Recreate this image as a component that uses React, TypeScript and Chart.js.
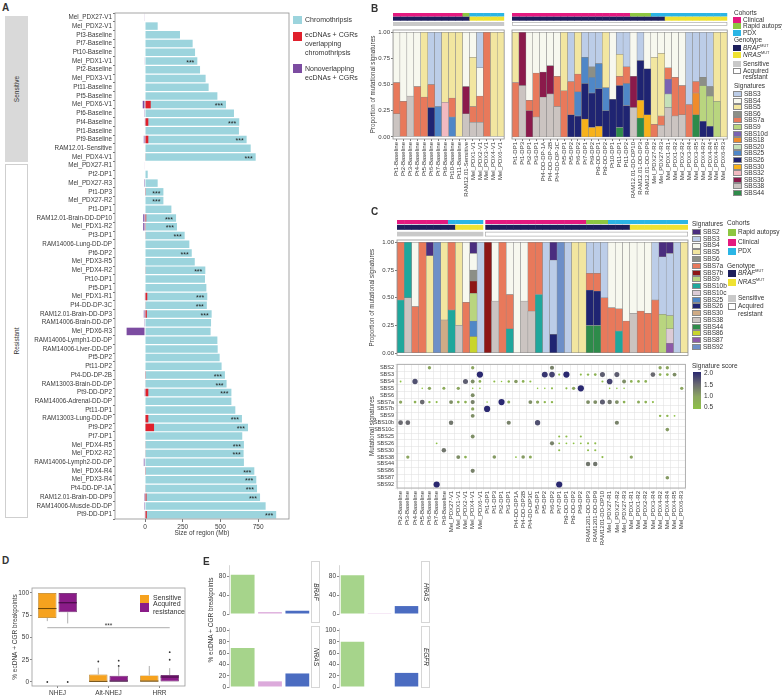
import React, { useEffect, useRef } from 'react';
import { Chart, registerables } from 'chart.js';

Chart.register(...registerables);
const FONT = '"Liberation Sans", Arial, Helvetica, sans-serif';
Chart.defaults.font.family = FONT;
Chart.defaults.font.size = 6.5;
Chart.defaults.color = '#3a3a3a';

type Pair = [number, number];

// ---------------- Panel A ----------------
const samplesA = ['Mel_PDX27-V1','Mel_PDX2-V1','Pt3-Baseline','Pt7-Baseline','Pt10-Baseline','Mel_PDX1-V1','Pt2-Baseline','Mel_PDX3-V1','Pt11-Baseline','Pt5-Baseline','Mel_PDX6-V1','Pt6-Baseline','Pt4-Baseline','Pt1-Baseline','Pt9-Baseline','RAM12.01-Sensitive','Mel_PDX4-V1',
'Mel_PDX27-R1','Pt2-DP1','Mel_PDX27-R3','Pt1-DP3','Mel_PDX27-R2','Pt1-DP1','RAM12.01-Brain-DD-DP10','Mel_PDX1-R2','Pt3-DP1','RAM14006-Lung-DD-DP','Pt6-DP2','Mel_PDX3-R5','Mel_PDX4-R2','Pt10-DP1','Pt5-DP1','Mel_PDX1-R1','Pt4-DD-DP-3C','RAM12.01-Brain-DD-DP3','RAM14006-Brain-DD-DP','Mel_PDX6-R3','RAM14006-Lymph1-DD-DP','RAM14006-Liver-DD-DP','Pt5-DP2','Pt11-DP2','Pt4-DD-DP-2B','RAM13003-Brain-DD-DP','Pt9-DD-DP2','RAM14006-Adrenal-DD-DP','Pt11-DP1','RAM13003-Lung-DD-DP','Pt9-DP2','Pt7-DP1','Mel_PDX4-R5','Mel_PDX2-R2','RAM14006-Lymph2-DD-DP','Mel_PDX4-R4','Mel_PDX3-R4','Pt4-DD-DP-1A','RAM12.01-Brain-DD-DP9','RAM14006-Muscle-DD-DP','Pt9-DD-DP1'];
const chromothripsisA = [0,84,232,316,332,347,365,402,422,480,537,590,625,623,674,701,734,
  0,18,84,122,122,175,206,212,263,294,310,330,400,398,407,413,410,442,438,435,480,482,495,508,530,541,573,573,599,643,683,645,656,654,656,725,738,743,763,800,870];
const overlapA = [0,0,0,0,0,0,0,0,0,0,38,0,22,0,22,0,4,
  0,0,0,5,0,0,8,5,4,0,0,0,4,0,0,15,4,12,0,0,0,0,0,0,5,3,22,0,0,22,60,0,4,4,0,5,0,4,10,0,12];
const nonOverlapA = [-4,0,0,0,0,-4,0,0,0,0,-15,-5,-4,0,-8,0,0,
  -3,0,-6,0,0,0,-12,-12,0,0,0,0,0,0,0,-4,0,-8,-5,-122,0,0,0,0,0,0,-5,0,0,0,0,0,0,0,-8,0,0,0,-6,-6,-4];
const significantA = [0,0,0,0,0,1,0,0,0,0,1,0,1,0,1,0,1,
  0,0,0,1,1,0,1,1,1,0,1,0,1,0,0,1,1,1,0,0,0,0,0,0,1,1,1,0,0,1,1,0,1,1,0,1,1,1,1,0,1];
const ticksA = [0, 250, 500, 750];

// ---------------- Panel B ----------------
const samplesB = ['Pt1-Baseline','Pt2-Baseline','Pt3-Baseline','Pt4-Baseline','Pt5-Baseline','Pt6-Baseline','Pt7-Baseline','Pt9-Baseline','Pt10-Baseline','Pt11-Baseline','RAM12.01-Sensitive','Mel_PDX1-V1','Mel_PDX2-V1','Mel_PDX3-V1','Mel_PDX4-V1','Mel_PDX6-V1',
'Pt1-DP1','Pt1-DP3','Pt2-DP1','Pt3-DP1','Pt4-DD-DP-1A','Pt4-DD-DP-2B','Pt4-DD-DP-3C','Pt5-DP1','Pt5-DP2','Pt6-DP2','Pt7-DP1','Pt9-DP2','Pt9-DD-DP1','Pt9-DD-DP2','Pt10-DP1','Pt11-DP1','Pt11-DP2','RAM12.01-DD-DP10','RAM12.01-DD-DP3','RAM12.01-DD-DP9','Mel_PDX27-R2','Mel_PDX27-R3','Mel_PDX1-R1','Mel_PDX1-R2','Mel_PDX2-R2','Mel_PDX3-R4','Mel_PDX3-R5','Mel_PDX4-R2','Mel_PDX4-R4','Mel_PDX4-R5','Mel_PDX6-R3'];
const sensitiveCountB = 16;
const bSBS44: Pair[] = [[31,.09],[34,.18],[42,.21]];
const bSBS38: Pair[] = [[0,.22],[2,.39],[10,.22],[11,.14],[12,.14],[17,.49],[19,.19],[20,.38],[21,.41],[22,.29],[33,.28],[37,.11],[38,.28],[39,.20],[40,.21]];
const bSBS36: Pair[] = [[10,.26],[17,.51],[18,.25],[20,.24],[21,.27],[33,.30]];
const bSBS32: Pair[] = [[7,.33]];
const bSBS30: Pair[] = [[26,.17],[27,.09],[28,.10],[34,.17],[35,.21]];
const bSBS26: Pair[] = [[5,.28],[24,.21],[25,.20],[26,.34],[27,.33],[28,.36],[29,.25],[30,.36],[31,.40],[32,.30],[34,.38],[35,.44],[43,.15],[44,.10]];
const bSBS25: Pair[] = [[6,.29],[8,.19],[25,.23],[26,.25],[27,.15],[28,.24],[29,.22],[32,.21]];
const bSBS20: Pair[] = [[38,.13]];
const bSBS18: Pair[] = [[42,.21]];
const bSBS10d: Pair[] = [[38,.14]];
const bSBS9: Pair[] = [[43,.34],[44,.29],[45,.34]];
const bSBS7a: Pair[] = [[0,.30],[1,.34],[3,.48],[4,.38],[5,.22],[8,.18],[11,.15],[12,.25],[13,1],[16,.52],[18,.10],[19,.42],[22,.29],[23,.44],[24,.32],[25,.17],[31,.09],[32,.16],[36,.12],[37,.09],[38,.11],[39,.37],[40,.28],[41,.31],[42,.11]];
const bSBS6: Pair[] = [[27,.10],[43,.08],[44,.09]];
const bSBS5: Pair[] = [[4,.62],[7,.67],[8,.63],[9,1],[11,.47],[14,1],[15,1],[16,.48],[23,.56],[25,.40],[29,.53],[31,.21],[36,.64],[37,.60],[45,.66],[46,1]];
const bSBS4: Pair[] = [[0,.48],[1,.66],[2,.61],[3,.52],[10,.52],[11,.24],[12,.27],[18,.65],[19,.39],[20,.38],[21,.32],[22,.42],[30,.64],[33,.42],[35,.35],[36,.24],[37,.20],[38,.34],[39,.43],[40,.51]];
const bSBS3: Pair[] = [[5,.50],[6,.71],[12,.34],[24,.47],[26,.24],[27,.33],[28,.30],[31,.21],[32,.33],[34,.27],[41,.69],[42,.47],[43,.43],[44,.52]];
// bottom-to-top stacking order
const seriesB: [string, Pair[]][] = [['SBS44',bSBS44],['SBS38',bSBS38],['SBS36',bSBS36],['SBS32',bSBS32],['SBS30',bSBS30],['SBS26',bSBS26],['SBS25',bSBS25],['SBS20',bSBS20],['SBS18',bSBS18],['SBS10d',bSBS10d],['SBS9',bSBS9],['SBS7a',bSBS7a],['SBS6',bSBS6],['SBS5',bSBS5],['SBS4',bSBS4],['SBS3',bSBS3]];
const colorsB: Record<string, string> = { SBS3:'#bccde8', SBS4:'#f7f8ef', SBS5:'#f2e6a0', SBS6:'#8c8f87', SBS7a:'#e8795b', SBS9:'#b9d57f', SBS10d:'#7a63b3', SBS18:'#ef8b2c', SBS20:'#c5e0b9', SBS25:'#4f87c7', SBS26:'#1f2472', SBS30:'#f7b21b', SBS32:'#f2b9c0', SBS36:'#8b1a4b', SBS38:'#cbc4c1', SBS44:'#2e8b4a' };

// ---------------- Panel C ----------------
const samplesC = ['Pt2-Baseline','Pt3-Baseline','Pt4-Baseline','Pt5-Baseline','Pt6-Baseline','Pt7-Baseline','Pt9-Baseline','Mel_PDX27-V1','Mel_PDX1-V1','Mel_PDX2-V1','Mel_PDX4-V1','Mel_PDX6-V1',
'Pt1-DP1','Pt1-DP3','Pt2-DP1','Pt3-DP1','Pt4-DD-DP1A','Pt4-DD-DP2B','Pt4-DD-DP3C','Pt5-DP1','Pt5-DP2','Pt6-DP2','Pt7-DP1','Pt9-DD-DP1','Pt9-DD-DP2','Pt9-DP2','RAM1201-DD-DP3','RAM1201-DD-DP9','RAM1201-DD-DP10','Mel_PDX27-R1','Mel_PDX27-R2','Mel_PDX27-R3','Mel_PDX1-R1','Mel_PDX1-R2','Mel_PDX2-R2','Mel_PDX3-R4','Mel_PDX4-R2','Mel_PDX4-R4','Mel_PDX4-R5','Mel_PDX6-R3'];
const sensitiveCountC = 12;
const cSBS92: Pair[] = [[5,1],[22,1]];
const cSBS87: Pair[] = [[37,.09]];
const cSBS86: Pair[] = [[10,.15]];
const cSBS44: Pair[] = [[26,.25],[27,.25]];
const cSBS38: Pair[] = [[1,.50],[8,.25],[13,.47],[17,.47],[18,.38],[32,.36]];
const cSBS30: Pair[] = [[6,.30]];
const cSBS26: Pair[] = [[21,.17],[26,.32],[27,.31]];
const cSBS25: Pair[] = [[10,.14]];
const cSBS10c: Pair[] = [[37,.13]];
const cSBS10b: Pair[] = [[0,.48],[1,.50],[7,.39],[15,.22],[19,.53],[30,.20]];
const cSBS9: Pair[] = [[10,.25],[36,.35],[37,.12]];
const cSBS7b: Pair[] = [[10,.11],[12,1]];
const cSBS7a: Pair[] = [[0,.52],[2,.42],[3,1],[7,.61],[9,.46],[14,1],[15,.31],[18,.62],[19,.47],[26,.15],[27,.16],[28,.50],[29,.41],[30,.20],[31,.29],[33,.38],[34,.36],[35,.48]];
const cSBS6: Pair[] = [[10,.10]];
const cSBS5: Pair[] = [[4,.88],[6,.70],[8,.75],[24,1],[25,1],[39,1]];
const cSBS4: Pair[] = [[2,.58],[9,.54],[10,.15],[13,.53],[15,.47],[16,1],[17,.53],[29,.59],[30,.60],[31,.71],[32,.64],[33,.62],[34,.64]];
const cSBS3: Pair[] = [[11,1],[20,1],[21,.67],[23,1],[26,.28],[27,.28],[28,.50],[35,.52],[36,.52],[37,.56],[38,1]];
const cSBS2: Pair[] = [[4,.12],[10,.10],[21,.16],[36,.13],[37,.10]];
const seriesC: [string, Pair[]][] = [['SBS92',cSBS92],['SBS87',cSBS87],['SBS86',cSBS86],['SBS44',cSBS44],['SBS38',cSBS38],['SBS30',cSBS30],['SBS26',cSBS26],['SBS25',cSBS25],['SBS10c',cSBS10c],['SBS10b',cSBS10b],['SBS9',cSBS9],['SBS7b',cSBS7b],['SBS7a',cSBS7a],['SBS6',cSBS6],['SBS5',cSBS5],['SBS4',cSBS4],['SBS3',cSBS3],['SBS2',cSBS2]];
const colorsC: Record<string, string> = { SBS2:'#4a2d7f', SBS3:'#bccde8', SBS4:'#f7f8ef', SBS5:'#f2e6a0', SBS6:'#8c8f87', SBS7a:'#e8795b', SBS7b:'#8e1616', SBS9:'#b9d57f', SBS10b:'#1fa79c', SBS10c:'#dccbd6', SBS25:'#4f87c7', SBS26:'#1f2472', SBS30:'#cfab86', SBS38:'#cbc4c1', SBS44:'#2e8b4a', SBS86:'#c9d52c', SBS87:'#8e5aa8', SBS92:'#6d8fc8' };
// signature scores (bubble matrix): [sample index, score]
const sSBS2: Pair[] = [[4,1.0],[10,1.0],[21,1.3],[36,1.0],[37,1.0]];
const sSBS3: Pair[] = [[11,2.0],[20,1.9],[21,1.8],[22,0.6],[23,2.0],[25,0.6],[26,0.7],[27,0.8],[28,1.6],[30,1.6],[35,1.5],[36,0.8],[37,0.8],[38,1.2]];
const sSBS4: Pair[] = [[0,0.5],[2,1.7],[9,1.6],[10,1.2],[11,0.8],[13,0.6],[14,0.4],[15,0.7],[16,1.1],[17,0.8],[18,0.6],[28,0.6],[29,1.8],[31,1.2],[32,0.8],[33,0.8],[34,0.8]];
const sSBS5: Pair[] = [[3,0.4],[4,1.0],[6,0.9],[8,1.0],[10,0.4],[11,0.4],[19,0.4],[20,0.4],[21,0.6],[23,0.6],[24,1.0],[25,2.0],[29,0.4],[30,0.4],[31,0.4],[39,1.0]];
const sSBS6: Pair[] = [[10,1.2]];
const sSBS7a: Pair[] = [[0,1.0],[2,0.8],[3,1.5],[4,0.7],[5,0.6],[7,1.2],[8,0.8],[9,0.8],[10,1.3],[12,0.4],[14,2.0],[15,0.9],[18,1.2],[19,1.0],[20,0.7],[21,0.7],[26,1.2],[27,1.2],[28,1.6],[29,1.4],[30,1.2],[31,0.8],[33,0.9],[34,0.8],[35,0.6]];
const sSBS7b: Pair[] = [[10,1.0],[12,2.0]];
const sSBS9: Pair[] = [[10,1.2],[36,0.7],[37,0.7],[38,0.5]];
const sSBS10b: Pair[] = [[0,1.5],[1,1.5],[7,1.4],[15,1.3],[19,1.7],[30,1.3]];
const sSBS10c: Pair[] = [[37,1.1]];
const sSBS25: Pair[] = [[10,1.2],[22,0.6],[23,0.6],[25,0.6]];
const sSBS26: Pair[] = [[5,0.5],[21,1.3],[22,0.5],[23,0.5],[24,0.5],[25,0.5],[26,0.6],[27,0.6]];
const sSBS30: Pair[] = [[6,1.4],[22,0.6],[26,0.6],[27,0.6]];
const sSBS38: Pair[] = [[1,1.0],[8,1.2],[9,0.8],[13,1.1],[16,0.5],[17,1.1],[18,0.9],[28,0.6],[32,1.0]];
const sSBS44: Pair[] = [[26,1.4],[27,1.4]];
const sSBS86: Pair[] = [[10,1.3]];
const sSBS87: Pair[] = [[37,1.1]];
const sSBS92: Pair[] = [[5,2.0],[22,2.0]];
const scoresC: [string, Pair[]][] = [['SBS2',sSBS2],['SBS3',sSBS3],['SBS4',sSBS4],['SBS5',sSBS5],['SBS6',sSBS6],['SBS7a',sSBS7a],['SBS7b',sSBS7b],['SBS9',sSBS9],['SBS10b',sSBS10b],['SBS10c',sSBS10c],['SBS25',sSBS25],['SBS26',sSBS26],['SBS30',sSBS30],['SBS38',sSBS38],['SBS44',sSBS44],['SBS86',sSBS86],['SBS87',sSBS87],['SBS92',sSBS92]];

// ---------------- Panel D ----------------
const pathwaysD = ['NHEJ', 'Alt-NHEJ', 'HRR'];
const sensQ1 = [72, 0, 0], sensMedian = [82.5, 0.7, 1], sensQ3 = [100, 8.5, 7.4];
const sensWhiskLo = [68.4, 0, 0], sensWhiskHi = [100, 16, 18];
const sensOutliers = [[0], [23], []];
const acqQ1 = [78.4, 0, 0], acqMedian = [89, 1, 5.6], acqQ3 = [100, 7, 7.8];
const acqWhiskLo = [65.8, 0, 0], acqWhiskHi = [100, 17, 15.6];
const acqOutliers = [[0], [18, 24], [25, 33.5]];
const significanceLevelD = 61;

// ---------------- Panel E ----------------
const pathwaysE = ['NHEJ', 'Alt-NHEJ', 'HRR'];
const brafE = [84, 4, 7];
const nrasE = [69, 10, 24];
const hrasE = [83, 0.5, 17];
const egfrE = [80, 0, 25];

// ---------------- helpers ----------------
const cohortOf = (s: string) => s.startsWith('Mel_PDX') ? 'PDX' : s.startsWith('RAM') ? 'Rapid autopsy' : 'Clinical';
const genotypeOf = (s: string) => (s.startsWith('Mel_PDX') && !s.startsWith('Mel_PDX27')) ? 'NRAS' : 'BRAF';
const cohortColor: Record<string, string> = { 'Clinical': '#e4197f', 'Rapid autopsy': '#8dc641', 'PDX': '#2bb5e5' };
const genoColor: Record<string, string> = { BRAF: '#1d1f5c', NRAS: '#efe232' };
const statusColor: Record<string, string> = { S: '#c9c9c9', R: '#ffffff' };

function expand(list: Pair[], from: number, n: number) {
  const out: (number | null)[] = new Array(n).fill(null);
  for (const [i, v] of list) if (i >= from && i < from + n) out[i - from] = v;
  return out;
}

function scoreColor(s: number) {
  const stops: [number, number[]][] = [[0.4, [141, 198, 63]], [1.0, [140, 166, 96]], [1.5, [106, 106, 112]], [2.0, [42, 40, 112]]];
  if (s <= stops[0][0]) return `rgb(${stops[0][1].join(',')})`;
  for (let k = 1; k < stops.length; k++) {
    if (s <= stops[k][0]) {
      const [a0, c0] = stops[k - 1], [a1, c1] = stops[k];
      const t = (s - a0) / (a1 - a0);
      return `rgb(${c0.map((c, j) => Math.round(c + (c1[j] - c) * t)).join(',')})`;
    }
  }
  return `rgb(${stops[3][1].join(',')})`;
}

const framePlugin = {
  id: 'frame',
  afterDraw(chart: any, _a: any, o: any) {
    if (!o || !o.color) return;
    const { ctx, chartArea: a } = chart;
    ctx.save();
    ctx.strokeStyle = o.color; ctx.lineWidth = o.width ?? 0.8;
    ctx.strokeRect(a.left, a.top, a.right - a.left, a.bottom - a.top);
    ctx.restore();
  },
};

const starsPlugin = {
  id: 'stars',
  afterDatasetsDraw(chart: any, _a: any, o: any) {
    if (!o || !o.flags) return;
    const { ctx } = chart; const xs = chart.scales.x; const ys = chart.scales.y;
    ctx.save();
    ctx.fillStyle = '#222'; ctx.font = `7px ${FONT}`; ctx.textAlign = 'right'; ctx.textBaseline = 'middle';
    o.flags.forEach((f: number, i: number) => {
      if (!f) return;
      ctx.fillText('***', xs.getPixelForValue(o.values[i]) - 3, ys.getPixelForValue(i) + 1.8);
    });
    ctx.restore();
  },
};

const annotPlugin = {
  id: 'annot',
  afterDraw(chart: any, _a: any, o: any) {
    if (!o || !o.samples) return;
    const { ctx } = chart; const a = chart.chartArea; const xs = chart.scales.x;
    const n: number = o.samples.length;
    const step = (a.right - a.left) / n;
    const gap: number = o.gapAt ?? -1;
    const edge = (i: number) => {
      const c = xs.getPixelForValue(i);
      let l = c - step / 2, r = c + step / 2;
      if (i === gap - 1) r -= 1;
      if (i === gap) l += 1;
      return [l, r];
    };
    const [cy, ch] = o.rows[0], [gy, gh] = o.rows[1], [sy, sh] = o.rows[2];
    ctx.save();
    for (let i = 0; i < n; i++) {
      const [l, r] = edge(i);
      const w = r - l + (i === gap - 1 || i === n - 1 ? 0 : 0.5);
      ctx.fillStyle = cohortColor[cohortOf(o.samples[i])];
      ctx.fillRect(l, a.top + cy, w, ch);
      ctx.fillStyle = genoColor[genotypeOf(o.samples[i])];
      ctx.fillRect(l, a.top + gy, w, gh);
    }
    let start = 0;
    for (let i = 1; i <= n; i++) {
      if (i === n || o.status[i] !== o.status[start]) {
        const l = edge(start)[0], r = edge(i - 1)[1];
        ctx.fillStyle = statusColor[o.status[start]];
        ctx.fillRect(l, a.top + sy, r - l, sh);
        if (o.status[start] === 'R') {
          ctx.strokeStyle = '#a0a0a0'; ctx.lineWidth = 0.6;
          ctx.strokeRect(l + 0.3, a.top + sy + 0.3, r - l - 0.6, sh - 0.6);
        }
        start = i;
      }
    }
    ctx.restore();
  },
};

const boxPlugin = {
  id: 'boxes',
  afterDatasetsDraw(chart: any, _a: any, o: any) {
    if (!o || !o.stats) return;
    const { ctx } = chart; const ys = chart.scales.y;
    ctx.save();
    o.stats.forEach((st: any, d: number) => {
      const meta = chart.getDatasetMeta(d);
      meta.data.forEach((el: any, i: number) => {
        const x = el.x, w = el.width;
        ctx.strokeStyle = '#9a9a9a'; ctx.lineWidth = 0.8;
        ctx.beginPath();
        ctx.moveTo(x, ys.getPixelForValue(st.q3[i])); ctx.lineTo(x, ys.getPixelForValue(st.hi[i]));
        ctx.moveTo(x, ys.getPixelForValue(st.q1[i])); ctx.lineTo(x, ys.getPixelForValue(st.lo[i]));
        ctx.stroke();
        ctx.strokeStyle = st.medColor; ctx.lineWidth = 1;
        const ym = ys.getPixelForValue(st.med[i]);
        ctx.beginPath(); ctx.moveTo(x - w / 2, ym); ctx.lineTo(x + w / 2, ym); ctx.stroke();
        ctx.fillStyle = '#333';
        for (const v of st.out[i]) { ctx.beginPath(); ctx.arc(x, ys.getPixelForValue(v), 0.9, 0, Math.PI * 2); ctx.fill(); }
      });
    });
    if (o.sig != null) {
      const x0 = chart.getDatasetMeta(0).data[0].x;
      const x1 = chart.getDatasetMeta(1).data[2].x;
      const y = ys.getPixelForValue(o.sig);
      ctx.strokeStyle = '#8a8a8a'; ctx.lineWidth = 0.7;
      ctx.beginPath(); ctx.moveTo(x0, y); ctx.lineTo(x1, y); ctx.stroke();
      ctx.fillStyle = '#333'; ctx.font = `6.5px ${FONT}`; ctx.textAlign = 'center'; ctx.textBaseline = 'bottom';
      ctx.fillText('***', (x0 + x1) / 2, y + 1.5);
    }
    ctx.restore();
  },
};

const fixedTicks = (vals: number[]) => (s: any) => { s.ticks = vals.map((v) => ({ value: v })); };
const noPlug = { legend: { display: false }, tooltip: { enabled: false } };

// ---------------- configs ----------------
function configA(): any {
  return {
    type: 'bar',
    data: {
      labels: samplesA,
      datasets: [
        { label: 'ecDNAs + CGRs overlapping chromothripsis', data: overlapA, backgroundColor: '#e0202c', order: 0 },
        { label: 'Nonoverlapping ecDNAs + CGRs', data: nonOverlapA, backgroundColor: '#7c4ca1', order: 1 },
        { label: 'Chromothripsis', data: chromothripsisA, backgroundColor: '#9cd4dd', order: 2 },
      ],
    },
    options: {
      indexAxis: 'y', responsive: false, animation: false,
      layout: { padding: { top: 13, right: 11, left: 0, bottom: 0 } },
      datasets: { bar: { grouped: false, categoryPercentage: 1, barPercentage: 0.86 } },
      scales: {
        x: {
          type: 'linear', min: -199, max: 955, afterBuildTicks: fixedTicks(ticksA),
          grid: { drawOnChartArea: false, tickLength: 3, color: '#777' }, border: { display: false },
          ticks: { font: { size: 6.5 }, padding: 1 },
          title: { display: true, text: 'Size of region (Mb)', padding: 0, font: { size: 6.5 } },
          afterFit: (s: any) => { s.height = 18; },
        },
        y: {
          grid: { drawOnChartArea: false, tickLength: 2, color: '#777' }, border: { display: false },
          ticks: { font: { size: 6.3 }, padding: 1, autoSkip: false },
          afterFit: (s: any) => { s.width = 115; },
        },
      },
      plugins: { ...noPlug, frame: { color: '#8f8f8f' }, stars: { flags: significantA, values: chromothripsisA } },
    },
    plugins: [framePlugin, starsPlugin],
  };
}

function stackedConfig(labels: string[], series: [string, Pair[]][], colors: Record<string, string>, from: number, status: string[], opts: any): any {
  return {
    type: 'bar',
    data: {
      labels,
      datasets: series.map(([name, list]) => ({
        label: name, data: expand(list, from, labels.length), backgroundColor: colors[name],
        borderColor: '#858585', borderWidth: 0.5, borderSkipped: false, categoryPercentage: 1, barPercentage: 1,
      })),
    },
    options: {
      responsive: false, animation: false,
      layout: { padding: opts.padding },
      scales: {
        x: {
          stacked: true, display: opts.showX,
          grid: { drawOnChartArea: false, tickLength: 2, color: '#777', offset: false }, border: { display: false },
          ticks: { minRotation: 90, maxRotation: 90, autoSkip: false, font: { size: 6 }, padding: 1 },
          afterFit: (s: any) => { s.height = opts.xHeight; },
        },
        y: {
          stacked: true, min: -0.02, max: 1.022, display: opts.showY,
          afterBuildTicks: fixedTicks([0, 0.25, 0.5, 0.75, 1]),
          grid: { drawOnChartArea: false, tickLength: 2, color: '#777' }, border: { display: false },
          ticks: { font: { size: 6 }, padding: 1, callback: (v: any) => Number(v).toFixed(2) },
          title: { display: true, text: 'Proportion of mutational signatures', padding: 0, font: { size: 6.3 } },
          afterFit: (s: any) => { s.width = opts.yWidth; },
        },
      },
      plugins: { ...noPlug, frame: { color: '#8f8f8f' }, annot: { samples: labels, status, rows: opts.rows, gapAt: opts.gapAt } },
    },
    plugins: [framePlugin, annotPlugin],
  };
}

const rowsB = [[-17, 3.6], [-13.3, 4], [-8, 4]];
const rowsC = [[-20, 4], [-15.2, 5], [-8.2, 4.6]];

function configBLeft() {
  const labels = samplesB.slice(0, sensitiveCountB);
  return stackedConfig(labels, seriesB, colorsB, 0, labels.map(() => 'S'), {
    padding: { top: 30, right: 3, left: 0, bottom: 0 }, showX: true, showY: true, xHeight: 66, yWidth: 24, rows: rowsB,
  });
}
function configBRight() {
  const labels = samplesB.slice(sensitiveCountB);
  return stackedConfig(labels, seriesB, colorsB, sensitiveCountB, labels.map(() => 'R'), {
    padding: { top: 30, right: 2, left: 2, bottom: 0 }, showX: true, showY: false, xHeight: 66, yWidth: 0, rows: rowsB,
  });
}
function configCBars() {
  return stackedConfig(samplesC, seriesC, colorsC, 0, samplesC.map((_, i) => (i < sensitiveCountC ? 'S' : 'R')), {
    padding: { top: 26, right: 2, left: 0, bottom: 1 }, showX: false, showY: true, xHeight: 0, yWidth: 29, rows: rowsC, gapAt: sensitiveCountC,
  });
}

function configCBubbles(): any {
  const points: any[] = [];
  scoresC.forEach(([sig, list]) => list.forEach(([i, s]) => points.push({ x: samplesC[i], y: sig, r: 0.2 + 1.45 * s, s })));
  const sigs = scoresC.map(([s]) => s);
  return {
    type: 'bubble',
    data: { datasets: [{ data: points, backgroundColor: (c: any) => scoreColor(c.raw ? c.raw.s : 1), borderWidth: 0 }] },
    options: {
      responsive: false, animation: false,
      layout: { padding: { top: 2, right: 2, left: 0, bottom: 0 } },
      scales: {
        x: {
          type: 'category', labels: samplesC, offset: true,
          grid: { offset: true, color: '#dcdcdc', lineWidth: 0.5, tickLength: 2 }, border: { display: false },
          ticks: { minRotation: 90, maxRotation: 90, autoSkip: false, font: { size: 6 }, padding: 1 },
          afterFit: (s: any) => { s.height = 60; },
        },
        y: {
          type: 'category', labels: sigs, offset: true,
          grid: { offset: true, color: '#dcdcdc', lineWidth: 0.5, tickLength: 2 }, border: { display: false },
          ticks: { autoSkip: false, font: { size: 5.5 }, padding: 1 },
          title: { display: true, text: 'Mutational signatures', padding: 0, font: { size: 6.3 } },
          afterFit: (s: any) => { s.width = 29; },
        },
      },
      plugins: { ...noPlug, frame: { color: '#a0a0a0' } },
    },
    plugins: [framePlugin],
  };
}

function configD(): any {
  return {
    type: 'bar',
    data: {
      labels: pathwaysD,
      datasets: [
        { label: 'Sensitive', data: pathwaysD.map((_, i) => [sensQ1[i], sensQ3[i]]), backgroundColor: '#f6a21e', borderColor: '#b07412', borderWidth: 0.7, borderSkipped: false, categoryPercentage: 0.8, barPercentage: 0.9 },
        { label: 'Acquired resistance', data: pathwaysD.map((_, i) => [acqQ1[i], acqQ3[i]]), backgroundColor: '#8a1c88', borderColor: '#4f0f50', borderWidth: 0.7, borderSkipped: false, categoryPercentage: 0.8, barPercentage: 0.9 },
      ],
    },
    options: {
      responsive: false, animation: false,
      layout: { padding: { top: 10, right: 1, left: 0, bottom: 0 } },
      scales: {
        x: {
          grid: { drawOnChartArea: false, tickLength: 2, offset: false, color: '#888' }, border: { display: false },
          ticks: { font: { size: 6.5 }, padding: 1 },
          afterFit: (s: any) => { s.height = 11; },
        },
        y: {
          min: -4.5, max: 105.6, afterBuildTicks: fixedTicks([0, 25, 50, 75, 100]),
          grid: { drawOnChartArea: false, tickLength: 2, color: '#888' }, border: { display: false },
          ticks: { font: { size: 6.5 }, padding: 1 },
          title: { display: true, text: '% ecDNA + CGR breakpoints', padding: { top: 2, bottom: 0 }, font: { size: 6.5 } },
          afterFit: (s: any) => { s.width = 23; },
        },
      },
      plugins: {
        ...noPlug, frame: { color: '#9a9a9a' },
        boxes: {
          stats: [
            { q1: sensQ1, q3: sensQ3, med: sensMedian, lo: sensWhiskLo, hi: sensWhiskHi, out: sensOutliers, medColor: '#6a4506' },
            { q1: acqQ1, q3: acqQ3, med: acqMedian, lo: acqWhiskLo, hi: acqWhiskHi, out: acqOutliers, medColor: '#3a0a3a' },
          ],
          sig: significanceLevelD,
        },
      },
    },
    plugins: [framePlugin, boxPlugin],
  };
}

function configE(values: number[], showX: boolean, yWidth: number): any {
  return {
    type: 'bar',
    data: { labels: pathwaysE, datasets: [{ data: values, backgroundColor: ['#a6d48b', '#dcaadb', '#4b6cc1'], categoryPercentage: 1, barPercentage: 0.87 }] },
    options: {
      responsive: false, animation: false,
      layout: { padding: { top: 3, right: 0, left: 0, bottom: showX ? 0 : 1 } },
      scales: {
        x: {
          display: showX, grid: { display: false }, border: { display: false },
          ticks: { font: { size: 6.5 }, padding: 1 },
          afterFit: (s: any) => { s.height = 10; },
        },
        y: {
          min: 0, max: 103, afterBuildTicks: fixedTicks([0, 20, 40, 60, 80, 100]),
          grid: { drawOnChartArea: false, tickLength: 2, color: '#888' }, border: { color: '#bbb', width: 0.6 },
          ticks: { font: { size: 6.5 }, padding: 1 },
          afterFit: (s: any) => { s.width = yWidth; },
        },
      },
      plugins: { ...noPlug },
    },
  };
}

// ---------------- components ----------------
function ChartBox({ left, top, width, height, make }: { left: number; top: number; width: number; height: number; make: () => any }) {
  const ref = useRef<HTMLCanvasElement>(null);
  useEffect(() => {
    const chart = new Chart(ref.current as HTMLCanvasElement, make());
    return () => chart.destroy();
  }, []);
  return <canvas ref={ref} width={width} height={height} style={{ position: 'absolute', left, top, width, height }} />;
}

function T({ x, y, s = 6.5, children, st }: any) {
  return <div style={{ position: 'absolute', left: x, top: y - s * 0.62, fontSize: s, lineHeight: `${s * 1.2}px`, whiteSpace: 'nowrap', ...st }}>{children}</div>;
}
function Q({ x, y, w = 8, h = 6, c, b = true }: any) {
  return <div style={{ position: 'absolute', left: x, top: y, width: w, height: h, background: c, boxSizing: 'border-box', border: b ? '0.5px solid #8a8a8a' : 'none' }} />;
}
function VT({ cx, cy, s = 6.5, rot = -90, children, st }: any) {
  return <div style={{ position: 'absolute', left: cx, top: cy, transform: `translate(-50%,-50%) rotate(${rot}deg)`, fontSize: s, lineHeight: 1, whiteSpace: 'nowrap', ...st }}>{children}</div>;
}
const Mut = ({ g }: { g: string }) => <span><i>{g}</i><span style={{ fontSize: 3.8, verticalAlign: 'top', lineHeight: '4px' }}>MUT</span></span>;
const Letter = ({ x, y, l }: any) => <div style={{ position: 'absolute', left: x, top: y - 6, fontSize: 10, fontWeight: 'bold', lineHeight: '12px' }}>{l}</div>;

export default function App() {
  const legendSigsB = seriesB.map(([s]) => s).reverse();
  const legendSigsC = seriesC.map(([s]) => s).reverse();
  return (
    <div style={{ position: 'absolute', left: 0, top: 0, width: 782, height: 697, overflow: 'hidden', background: '#fff', fontFamily: FONT, color: '#333' }}>
      {/* Panel A */}
      <Letter x={2} y={8} l="A" />
      <div style={{ position: 'absolute', left: 5, top: 16, width: 23, height: 146, background: '#d9d9d9' }} />
      <VT cx={16.5} cy={89}>Sensitive</VT>
      <div style={{ position: 'absolute', left: 5, top: 164, width: 23, height: 354, boxSizing: 'border-box', border: '0.8px solid #cfcfcf' }} />
      <VT cx={16.5} cy={341}>Resistant</VT>
      <ChartBox left={0} top={0} width={300} height={537} make={configA} />
      <Q x={293} y={16} w={9} h={8} c="#9cd4dd" b={false} />
      <T x={305} y={20} s={7}>Chromothripsis</T>
      <Q x={293} y={32} w={9} h={9} c="#e0202c" b={false} />
      <T x={305} y={35} s={7}>ecDNAs + CGRs</T>
      <T x={305} y={44} s={7}>overlapping</T>
      <T x={305} y={53} s={7}>chromothripsis</T>
      <Q x={293} y={64} w={9} h={9} c="#7c4ca1" b={false} />
      <T x={305} y={69} s={7}>Nonoverlapping</T>
      <T x={305} y={78} s={7}>ecDNAs + CGRs</T>

      {/* Panel B */}
      <Letter x={371} y={9} l="B" />
      <ChartBox left={369} top={0} width={140} height={205} make={configBLeft} />
      <ChartBox left={510} top={0} width={222} height={205} make={configBRight} />
      <T x={734} y={13}>Cohorts</T>
      <Q x={733} y={17} c={cohortColor['Clinical']} b={false} /><T x={743} y={20}>Clinical</T>
      <Q x={733} y={23} c={cohortColor['Rapid autopsy']} b={false} /><T x={743} y={26.5}>Rapid autopsy</T>
      <Q x={733} y={30} c={cohortColor['PDX']} b={false} /><T x={743} y={33}>PDX</T>
      <T x={734} y={40}>Genotype</T>
      <Q x={733} y={45} c={genoColor.BRAF} b={false} /><T x={743} y={48}><Mut g="BRAF" /></T>
      <Q x={733} y={52} c={genoColor.NRAS} b={false} /><T x={743} y={55}><Mut g="NRAS" /></T>
      <Q x={733} y={61} c={statusColor.S} b={false} /><T x={743} y={64}>Sensitive</T>
      <Q x={733} y={68} c="#fff" /><T x={743} y={71}>Acquired</T>
      <T x={743} y={77}>resistant</T>
      <T x={734} y={86}>Signatures</T>
      {legendSigsB.map((s, k) => (
        <React.Fragment key={s}>
          <Q x={733} y={91 + 6.6 * k} w={9} h={6} c={colorsB[s]} />
          <T x={744} y={94 + 6.6 * k}>{s}</T>
        </React.Fragment>
      ))}

      {/* Panel C */}
      <Letter x={371} y={212} l="C" />
      <ChartBox left={368} top={214} width={322} height={146} make={configCBars} />
      <ChartBox left={368} top={360} width={322} height={188} make={configCBubbles} />
      <T x={692} y={224}>Signatures</T>
      {legendSigsC.map((s, k) => (
        <React.Fragment key={s}>
          <Q x={692} y={229 + 6.76 * k} w={9} h={6} c={colorsC[s]} />
          <T x={703} y={232 + 6.76 * k}>{s}</T>
        </React.Fragment>
      ))}
      <T x={727} y={223}>Cohorts</T>
      <Q x={728} y={228.5} w={8} h={7} c={cohortColor['Rapid autopsy']} b={false} /><T x={738} y={232}>Rapid autopsy</T>
      <Q x={728} y={238.5} w={8} h={7} c={cohortColor['Clinical']} b={false} /><T x={738} y={242}>Clinical</T>
      <Q x={728} y={247.5} w={8} h={7} c={cohortColor['PDX']} b={false} /><T x={738} y={251}>PDX</T>
      <T x={727} y={266}>Genotype</T>
      <Q x={728} y={269.5} w={8} h={7} c={genoColor.BRAF} b={false} /><T x={738} y={273}><Mut g="BRAF" /></T>
      <Q x={728} y={278.5} w={8} h={7} c={genoColor.NRAS} b={false} /><T x={738} y={282}><Mut g="NRAS" /></T>
      <Q x={728} y={294.5} w={8} h={7} c={statusColor.S} b={false} /><T x={738} y={298}>Sensitive</T>
      <Q x={728} y={302.5} w={8} h={7} c="#fff" /><T x={738} y={306}>Acquired</T>
      <T x={738} y={314}>resistant</T>
      <T x={692} y={366}>Signature score</T>
      <div style={{ position: 'absolute', left: 693, top: 372, width: 8, height: 37, background: `linear-gradient(to bottom, ${scoreColor(2.0)}, ${scoreColor(1.5)}, ${scoreColor(1.0)}, ${scoreColor(0.5)})` }} />
      <T x={704} y={373}>2.0</T>
      <T x={704} y={385}>1.5</T>
      <T x={704} y={396.5}>1.0</T>
      <T x={704} y={407.5}>0.5</T>

      {/* Panel D */}
      <Letter x={2} y={561} l="D" />
      <ChartBox left={9} top={578} width={177} height={119} make={configD} />
      <Q x={140} y={594.5} w={9} h={8} c="#f6a21e" b={false} /><T x={153} y={598} s={7}>Sensitive</T>
      <Q x={140} y={603} w={9} h={9} c="#8a1c88" b={false} /><T x={153} y={604.5} s={7}>Acquired</T>
      <T x={153} y={612.5} s={7}>resistance</T>

      {/* Panel E */}
      <Letter x={203} y={562} l="E" />
      <VT cx={211} cy={620}>% ecDNA + CGR breakpoints</VT>
      <ChartBox left={205} top={561} width={106} height={64} make={() => configE(brafE, false, 24)} />
      <ChartBox left={205} top={624} width={106} height={73} make={() => configE(nrasE, true, 24)} />
      <ChartBox left={320} top={561} width={100} height={64} make={() => configE(hrasE, false, 19)} />
      <ChartBox left={320} top={624} width={100} height={73} make={() => configE(egfrE, true, 19)} />
      {[[311, 561, 'BRAF'], [311, 626, 'NRAS'], [421, 561, 'HRAS'], [421, 626, 'EGFR']].map(([x, y, g]) => (
        <React.Fragment key={g as string}>
          <div style={{ position: 'absolute', left: x as number, top: y as number, width: 9, height: 62, boxSizing: 'border-box', border: '0.6px solid #d6d6d6', background: '#fff' }} />
          <VT cx={(x as number) + 4.5} cy={(y as number) + 31} rot={90} st={{ fontStyle: 'italic' }}>{g}</VT>
        </React.Fragment>
      ))}
    </div>
  );
}
